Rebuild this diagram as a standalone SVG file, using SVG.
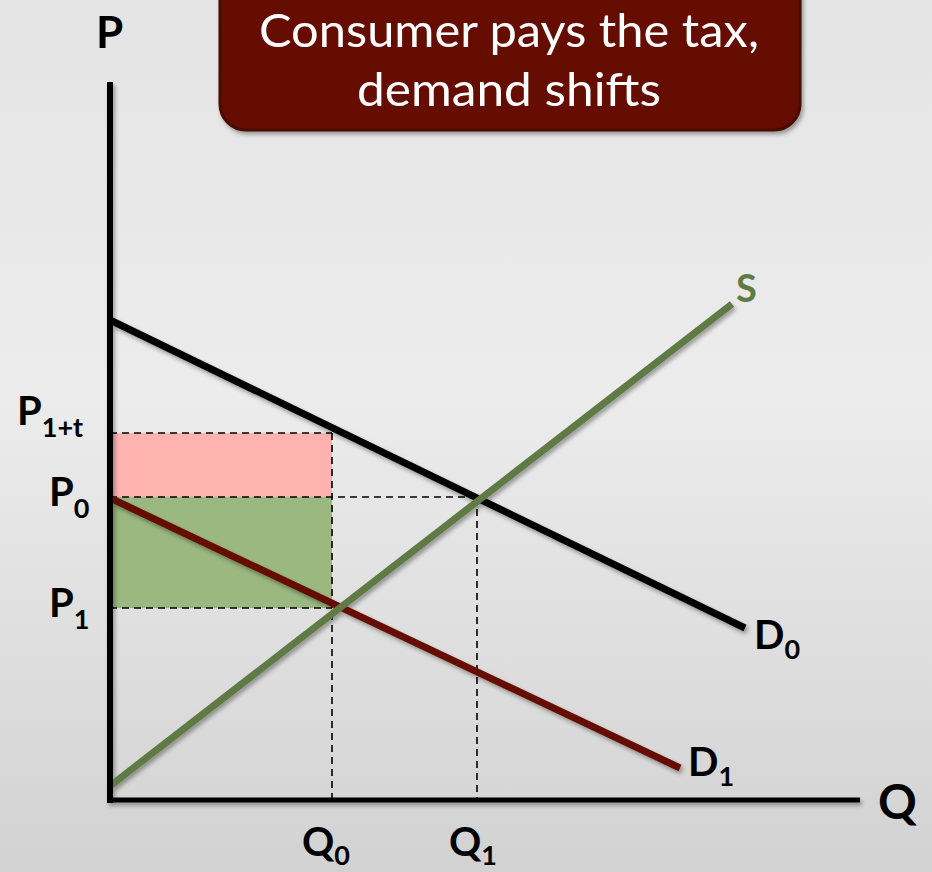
<svg xmlns="http://www.w3.org/2000/svg" width="932" height="872" viewBox="0 0 932 872">
<defs>
<linearGradient id="bg" x1="0" y1="0" x2="0" y2="1">
<stop offset="0" stop-color="#e4e4e4"/>
<stop offset="0.45" stop-color="#ececec"/>
<stop offset="1" stop-color="#d2d2d2"/>
</linearGradient>
<filter id="sh" x="-10%" y="-10%" width="120%" height="120%">
<feGaussianBlur in="SourceAlpha" stdDeviation="2"/>
<feOffset dx="2" dy="3" result="b"/>
<feComponentTransfer><feFuncA type="linear" slope="0.35"/></feComponentTransfer>
<feMerge><feMergeNode/><feMergeNode in="SourceGraphic"/></feMerge>
</filter>
<style>
.lbl{font-family:Lato,"Open Sans","Liberation Sans",sans-serif;font-weight:bold;fill:#000}
.sub{font-size:27px}
.dash{stroke:#000;stroke-width:1.6;stroke-dasharray:7 5;fill:none}
.curve{stroke-width:7;fill:none;stroke-linecap:butt}
.ttl{font-family:Lato,"Open Sans","Liberation Sans",sans-serif;font-size:46px;fill:#fff}
</style>
</defs>
<rect width="932" height="872" fill="url(#bg)"/>
<g id="areas">
<rect x="110" y="433" width="222" height="64" fill="#ffb3b0"/>
<rect x="110" y="497" width="222" height="111" fill="#9bb880"/>
</g>
<g id="connectors">
<path class="dash" d="M110 433H332M110 497H477M110 608H332M332 433V800M477 497V800"/>
<g filter="url(#sh)">
<line class="curve" x1="110" y1="320" x2="745" y2="628" stroke="#000"/>
<line class="curve" x1="110" y1="498" x2="680" y2="768" stroke="#650a02"/>
<line class="curve" x1="110" y1="786" x2="732" y2="304" stroke="#5e7a45"/>
<line x1="110" y1="82" x2="110" y2="803" stroke="#000" stroke-width="6"/>
<line x1="107" y1="800" x2="860" y2="800" stroke="#000" stroke-width="5"/>
</g>
</g>
<g id="title" filter="url(#sh)">
<rect x="220" y="-30" width="580" height="160" rx="26" fill="#650b02" stroke="#4a0700" stroke-width="3"/>
<text class="ttl" x="509" y="47" text-anchor="middle" textLength="500" lengthAdjust="spacingAndGlyphs">Consumer pays the tax,</text>
<text class="ttl" x="509" y="106" text-anchor="middle" textLength="304" lengthAdjust="spacingAndGlyphs">demand shifts</text>
</g>
<g id="axis-labels">
<text class="lbl" x="96" y="48" font-size="44">P</text>
<text class="lbl" x="878" y="819" font-size="48">Q</text>
</g>
<g id="price-labels">
<text class="lbl" x="17" y="425" font-size="40">P<tspan class="sub" dy="12">1+t</tspan></text>
<text class="lbl" x="49" y="506" font-size="40">P<tspan class="sub" dy="12">0</tspan></text>
<text class="lbl" x="49" y="617" font-size="40">P<tspan class="sub" dy="12">1</tspan></text>
</g>
<g id="quantity-labels">
<text class="lbl" x="302" y="856" font-size="40">Q<tspan class="sub" dy="9">0</tspan></text>
<text class="lbl" x="449" y="856" font-size="40">Q<tspan class="sub" dy="9">1</tspan></text>
</g>
<g id="curve-labels">
<text class="lbl" x="754" y="649" font-size="40">D<tspan class="sub" dy="10">0</tspan></text>
<text class="lbl" x="688" y="776" font-size="40">D<tspan class="sub" dy="10">1</tspan></text>
<text class="lbl" x="736" y="302" font-size="38" style="fill:#5e7a45">S</text>
</g>
</svg>
